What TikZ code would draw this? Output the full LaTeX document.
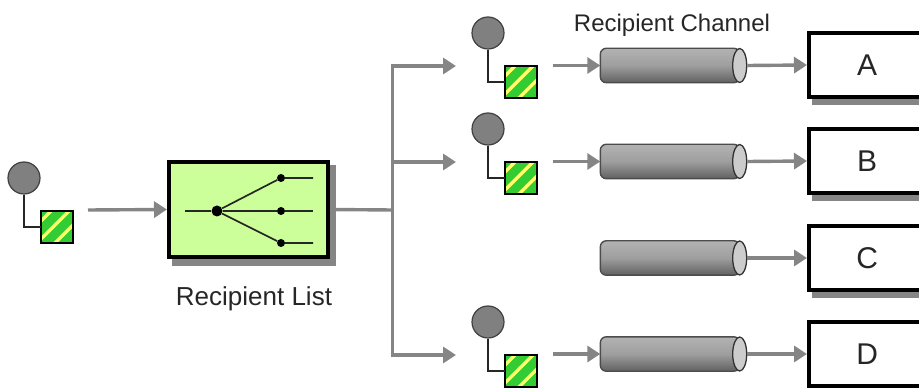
\documentclass[tikz,border=0pt]{standalone}
\usepackage{fontspec}
\setmainfont{Liberation Sans}
\usetikzlibrary{arrows.meta,shapes.geometric}
\definecolor{routerfill}{HTML}{CCFF99}
\definecolor{msggreen}{HTML}{33CC33}
\definecolor{msgyellow}{HTML}{FFFF66}
\definecolor{circlegray}{HTML}{808080}
\definecolor{flowgray}{HTML}{858585}
\tikzset{
  flow/.style={draw=flowgray,line width=3.4pt,-{Triangle[length=13pt,width=16pt]}},
  trunk/.style={draw=flowgray,line width=3.4pt},
  dropshadow/.style={fill=flowgray,draw=none},
  endpoint/.style={draw=black,line width=4.4pt,fill=white,minimum width=116pt,minimum height=64pt,inner sep=0pt,text=black!85,font=\fontsize{30}{30}\selectfont},
  wire/.style={draw=black!85,line width=1.7pt},
  junction/.style={circle,fill=black,inner sep=0pt,minimum size=8pt}
}
% message icon: head circle, stripey square, elbow between them
\newcommand{\msgicon}[3]{%
  \node[circle,draw=black!75,fill=circlegray,line width=1.2pt,minimum size=32pt,inner sep=0pt] (#3c) at (#1,#2) {};
  \node[draw=none,minimum size=32pt,inner sep=0pt] (#3s) at (#1+33,#2+49) {};
  \begin{scope}
    \clip (#3s.south west) rectangle (#3s.north east);
    \fill[msggreen] (#3s.south west) rectangle (#3s.north east);
    \foreach \shift in {-22,-4,14,32}
      \draw[msgyellow,line width=3.4pt] ([xshift=\shift pt]#3s.center)++(-20pt,-20pt)--++(40pt,40pt);
  \end{scope}
  \draw[black,line width=1.5pt] (#3s.south west) rectangle (#3s.north east);
  \draw[wire] (#3c.south)|-(#3s.west);
}
% channel: shaded tube, lighter open end on the right
\newcommand{\channel}[2]{%
  \node[inner sep=0pt,minimum width=139pt,minimum height=34pt] (#2) at (670,#1) {};
  \draw[black!70,line width=1.4pt,rounded corners=6pt,top color=black!30,bottom color=black!62,middle color=black!38]
    (#2.north east)--(#2.north west)--(#2.south west)--(#2.south east)--cycle;
  \node[ellipse,draw=black!80,fill=black!20,line width=1.3pt,minimum width=14pt,minimum height=34pt,inner sep=0pt] (#2end) at (#2.east) {};
}
\begin{document}
\begin{tikzpicture}[x=1pt,y=-1pt]
  \useasboundingbox (0,0) rectangle (919,390);
  %%% sender
  \msgicon{24}{178}{msg}
  \coordinate (msgout) at (88,210);
  %%% router
  \fill[dropshadow] (172,165) rectangle (336,266);
  \node[draw=black,line width=4pt,fill=routerfill,minimum width=159pt,minimum height=95pt,inner sep=0pt] (router) at (248.5,209.5) {};
  \node[junction,minimum size=11pt] (hub) at (217,211) {};
  \coordinate (inwire) at (185,211);
  \draw[wire] (inwire)--(hub);
  \foreach \name/\ypos in {top/178,mid/211,bot/243}{
    \node[junction] (\name) at (281,\ypos) {};
    \coordinate (\name end) at (313,\ypos);
    \draw[wire] (hub)--(\name)--(\name end);
  }
  \node[inner sep=0pt,text=black!85,font=\fontsize{26}{26}\selectfont] (routerlabel) at (254,299) {Recipient List};
  \draw[flow] (msgout)--(router.west);
  %%% branches
  \coordinate (fork) at (392.5,210);
  \coordinate (forka) at (456,66);
  \coordinate (forkb) at (456,162);
  \coordinate (forkd) at (456,355);
  \draw[trunk] (router.east)--(fork);
  \draw[flow] (fork)|-(forka);
  \draw[flow] (fork)|-(forkd);
  \draw[flow] (fork)|-(forkb);
  %%% recipients
  \msgicon{488}{33}{ma}
  \msgicon{488}{129}{mb}
  \msgicon{488}{322}{md}
  \channel{65.5}{cha}
  \channel{161.5}{chb}
  \channel{258}{chc}
  \channel{354}{chd}
  \node[inner sep=0pt,text=black!85,font=\fontsize{24}{24}\selectfont] (chlabel) at (672,25) {Recipient Channel};
  \foreach \ypos in {65,161,258}
    \fill[dropshadow] (812,\ypos+33) rectangle (925,\ypos+40);
  \foreach \name/\ypos/\txt in {a/65/A,b/161/B,c/258/C,d/354/D}{
    \node[endpoint,anchor=west] (box\name) at (807,\ypos) {\txt};
    \draw[flow] (ch\name end.east)--(box\name.west);
  }
  \foreach \name/\ypos in {a/65.5,b/161.5,d/354}{
    \coordinate (start\name) at (552.5,\ypos);
    \draw[flow] (start\name)--(ch\name.west);
  }
\end{tikzpicture}
\end{document}
